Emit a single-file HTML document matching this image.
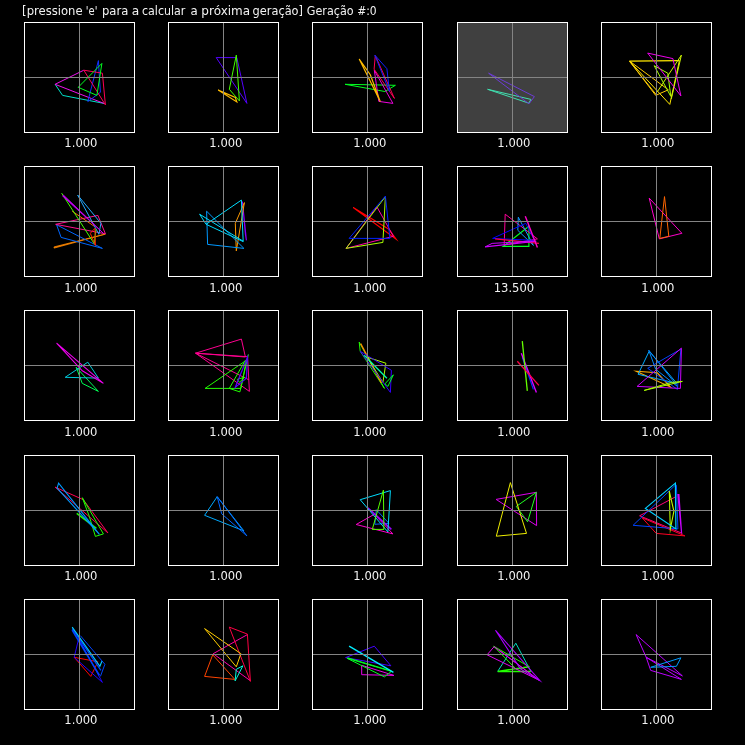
<!DOCTYPE html>
<html><head><meta charset="utf-8"><title>Geração</title>
<style>
html,body{margin:0;padding:0;background:#000;}
body{width:745px;height:745px;overflow:hidden;position:relative;font-family:"DejaVu Sans","Liberation Sans",sans-serif;}
svg{position:absolute;left:0;top:0;display:block;}
text{font-family:"DejaVu Sans","Liberation Sans",sans-serif;font-size:11.55px;fill:#f2f2f2;}
.b{fill:none;stroke:#fff;stroke-width:1;shape-rendering:crispEdges;}
.x{stroke:#848484;stroke-width:1;shape-rendering:crispEdges;}
.s{fill:none;stroke-linejoin:miter;stroke-miterlimit:10;stroke-linecap:butt;}
</style></head><body>
<svg width="745" height="745" viewBox="0 0 745 745">
<rect width="745" height="745" fill="#000"/>
<text y="14.5"><tspan x="22.14" textLength="60.48" lengthAdjust="spacingAndGlyphs">[pressione</tspan> <tspan x="85.85" textLength="11.61" lengthAdjust="spacingAndGlyphs">'e'</tspan> <tspan x="102.02" textLength="26.31" lengthAdjust="spacingAndGlyphs">para</tspan> <tspan x="131.84" textLength="7.49" lengthAdjust="spacingAndGlyphs">a</tspan> <tspan x="141.98" textLength="43.45" lengthAdjust="spacingAndGlyphs">calcular</tspan> <tspan x="190.57" textLength="7.22" lengthAdjust="spacingAndGlyphs">a</tspan> <tspan x="201.36" textLength="48.77" lengthAdjust="spacingAndGlyphs">próxima</tspan> <tspan x="252.58" textLength="50.44" lengthAdjust="spacingAndGlyphs">geração]</tspan> <tspan x="306.85" textLength="46.75" lengthAdjust="spacingAndGlyphs">Geração</tspan> <tspan x="357.20" textLength="19.51" lengthAdjust="spacingAndGlyphs">#:0</tspan></text>

<g>
<polyline class="s" points="55.1,84.3 62.6,95.4 103.9,103.4" stroke="#00e0c8" stroke-width="1.0"/>
<polyline class="s" points="83.8,70.2 55.1,84.3 103.9,103.4" stroke="#ee10ee" stroke-width="1.0"/>
<polygon class="s" points="98.4,60.6 87.8,101.6 100.4,92.3" stroke="#1030ff" stroke-width="1.0"/>
<polygon class="s" points="83.8,70.2 102.4,73.2 105.4,104.9" stroke="#ff0055" stroke-width="1.0"/>
<polygon class="s" points="78.2,87.3 101.9,63.4 96.9,95.4" stroke="#00ff20" stroke-width="1.0"/>
<line class="x" x1="79.5" y1="23" x2="79.5" y2="132"/>
<line class="x" x1="25" y1="77.5" x2="134" y2="77.5"/>
<rect class="b" x="24.5" y="22.5" width="110" height="110"/>
<text x="80.9" y="146.6" text-anchor="middle">1.000</text>
</g>
<g>
<polygon class="s" points="218.2,90.1 235.3,97.4 236.8,101.9" stroke="#ffbb00" stroke-width="1.2"/>
<polygon class="s" points="216.2,57.6 236.8,57.6 246.9,103.4" stroke="#5500ff" stroke-width="1.0"/>
<polygon class="s" points="236.3,55.1 229.3,89.3 239.4,100.9" stroke="#44ff00" stroke-width="1.0"/>
<line class="x" x1="223.5" y1="23" x2="223.5" y2="132"/>
<line class="x" x1="169" y1="77.5" x2="278" y2="77.5"/>
<rect class="b" x="168.5" y="22.5" width="110" height="110"/>
<text x="225.9" y="146.6" text-anchor="middle">1.000</text>
</g>
<g>
<polygon class="s" points="345.1,84.3 395.4,85.3 384.9,91.5" stroke="#00ff20" stroke-width="1.0"/>
<polygon class="s" points="374.3,70.2 378.8,101.4 392.9,103.4" stroke="#ee00dd" stroke-width="1.0"/>
<polygon class="s" points="375.3,55.6 374.1,69.2 394.4,98.4" stroke="#ff0055" stroke-width="1.0"/>
<polygon class="s" points="374.8,55.1 386.9,68.7 389.4,91.3" stroke="#1020ff" stroke-width="1.0"/>
<polygon class="s" points="359.2,59.1 370.3,74.7 380.3,101.6" stroke="#ffbb00" stroke-width="1.2"/>
<line class="x" x1="367.5" y1="23" x2="367.5" y2="132"/>
<line class="x" x1="313" y1="77.5" x2="422" y2="77.5"/>
<rect class="b" x="312.5" y="22.5" width="110" height="110"/>
<text x="369.9" y="146.6" text-anchor="middle">1.000</text>
</g>
<g>
<rect x="458" y="23" width="109" height="109" fill="#404040"/>
<polygon class="s" points="487.6,89.3 530.9,99.4 528.9,103.2" stroke="#40e0b0" stroke-width="1.0"/>
<polygon class="s" points="488.6,73.2 534.4,96.6 529.0,103.8" stroke="#6c3cd6" stroke-width="1.0"/>
<line class="x" x1="512.5" y1="23" x2="512.5" y2="132"/>
<line class="x" x1="458" y1="77.5" x2="567" y2="77.5"/>
<rect class="b" x="457.5" y="22.5" width="110" height="110"/>
<text x="513.9" y="146.6" text-anchor="middle">1.000</text>
</g>
<g>
<polygon class="s" points="629.6,61.1 655.7,95.4 668.3,89.8" stroke="#ffcc00" stroke-width="1.0"/>
<polyline class="s" points="629.6,61.5 656.4,94.9" stroke="#ffcc00" stroke-width="1.0"/>
<polyline class="s" points="629.6,61.1 679.4,60.6" stroke="#ffe800" stroke-width="1.45"/>
<polyline class="s" points="679.4,60.6 669.8,104.4 629.6,61.1" stroke="#ffe800" stroke-width="1.0"/>
<polyline class="s" points="657.3,91.8 681.4,55.1 671.3,98.9" stroke="#ccf600" stroke-width="1.0"/>
<polygon class="s" points="654.2,65.7 667.8,73.2 670.8,96.4" stroke="#aaff00" stroke-width="1.0"/>
<polygon class="s" points="647.7,53.1 672.9,58.6 680.9,95.9" stroke="#ee00ee" stroke-width="1.0"/>
<line class="x" x1="656.5" y1="23" x2="656.5" y2="132"/>
<line class="x" x1="602" y1="77.5" x2="711" y2="77.5"/>
<rect class="b" x="601.5" y="22.5" width="110" height="110"/>
<text x="657.9" y="146.6" text-anchor="middle">1.000</text>
</g>
<g>
<polygon class="s" points="54.1,246.9 105.4,234.1 54.1,248.1" stroke="#ff8800" stroke-width="0.8" style="fill:#ff8800"/>
<polygon class="s" points="56.6,224.8 61.1,237.4 102.4,248.4" stroke="#0066ff" stroke-width="1.0"/>
<polygon class="s" points="55.6,224.3 97.9,215.4 105.4,233.8" stroke="#ff1090" stroke-width="1.0"/>
<polyline class="s" points="72.2,211.2 94.3,226.3" stroke="#ff6600" stroke-width="1.0"/>
<polygon class="s" points="77.7,195.1 100.9,223.3 98.9,234.3" stroke="#22aaff" stroke-width="1.0"/>
<polyline class="s" points="61.6,193.1 94.3,243.9 95.9,229.3" stroke="#44ff00" stroke-width="1.0"/>
<polygon class="s" points="62.6,196.0 63.6,195.2 103.4,233.3" stroke="#cc00ff" stroke-width="0.8" style="fill:#cc00ff"/>
<polygon class="s" points="94.9,228.3 90.3,233.3 95.4,245.4" stroke="#ff2200" stroke-width="1.0"/>
<line class="x" x1="79.5" y1="167" x2="79.5" y2="276"/>
<line class="x" x1="25" y1="221.5" x2="134" y2="221.5"/>
<rect class="b" x="24.5" y="166.5" width="110" height="110"/>
<text x="80.9" y="291.6" text-anchor="middle">1.000</text>
</g>
<g>
<polygon class="s" points="242.4,201.6 246.4,240.4 245.4,234.3" stroke="#8800ff" stroke-width="1.1"/>
<polygon class="s" points="244.4,202.6 235.3,223.3 236.3,250.9" stroke="#ff9900" stroke-width="1.0"/>
<polygon class="s" points="206.6,211.2 207.6,244.4 243.9,248.4" stroke="#0099ff" stroke-width="1.0"/>
<polygon class="s" points="241.4,200.1 206.1,224.3 243.2,241.6" stroke="#00ddff" stroke-width="1.0"/>
<polyline class="s" points="206.1,224.3 199.6,214.2 243.2,241.2" stroke="#00ddff" stroke-width="1.0"/>
<line class="x" x1="223.5" y1="167" x2="223.5" y2="276"/>
<line class="x" x1="169" y1="221.5" x2="278" y2="221.5"/>
<rect class="b" x="168.5" y="166.5" width="110" height="110"/>
<text x="225.9" y="291.6" text-anchor="middle">1.000</text>
</g>
<g>
<polygon class="s" points="353.2,207.4 395.9,238.9 388.9,229.3" stroke="#ff0000" stroke-width="1.2"/>
<polygon class="s" points="376.8,206.7 393.4,236.3 346.1,248.4" stroke="#ff00aa" stroke-width="1.0"/>
<polygon class="s" points="385.4,196.6 346.1,248.4 382.9,242.4" stroke="#aaff00" stroke-width="1.0"/>
<polygon class="s" points="385.4,196.1 349.1,238.4 389.9,238.4" stroke="#0022ff" stroke-width="1.0"/>
<line class="x" x1="367.5" y1="167" x2="367.5" y2="276"/>
<line class="x" x1="313" y1="221.5" x2="422" y2="221.5"/>
<rect class="b" x="312.5" y="166.5" width="110" height="110"/>
<text x="369.9" y="291.6" text-anchor="middle">1.000</text>
</g>
<g>
<polygon class="s" points="528.9,226.3 503.2,246.4 528.9,246.4" stroke="#00ff22" stroke-width="1.15"/>
<polygon class="s" points="505.2,214.2 504.2,244.9 537.4,238.9" stroke="#ff0099" stroke-width="1.0"/>
<polygon class="s" points="518.3,217.2 517.8,230.3 533.4,245.4" stroke="#1199ff" stroke-width="1.0"/>
<polygon class="s" points="525.8,223.3 492.6,238.4 534.4,240.4" stroke="#0000ff" stroke-width="1.0"/>
<polyline class="s" points="495.1,238.9 538.9,243.4" stroke="#ff0044" stroke-width="1.2"/>
<polyline class="s" points="485.1,246.9 492.1,243.4 535.4,240.9" stroke="#cc00ff" stroke-width="1.0"/>
<polyline class="s" points="485.1,246.9 536.4,241.2" stroke="#cc00ff" stroke-width="1.1"/>
<polyline class="s" points="525.3,216.2 537.4,247.4" stroke="#ff00cc" stroke-width="1.4"/>
<line class="x" x1="512.5" y1="167" x2="512.5" y2="276"/>
<line class="x" x1="458" y1="221.5" x2="567" y2="221.5"/>
<rect class="b" x="457.5" y="166.5" width="110" height="110"/>
<text x="513.9" y="291.6" text-anchor="middle">13.500</text>
</g>
<g>
<polygon class="s" points="649.2,198.1 681.9,233.3 659.3,238.9" stroke="#ff00cc" stroke-width="1.0"/>
<polygon class="s" points="664.5,196.6 659.8,238.4 668.8,236.3" stroke="#ff6600" stroke-width="1.0"/>
<line class="x" x1="656.5" y1="167" x2="656.5" y2="276"/>
<line class="x" x1="602" y1="221.5" x2="711" y2="221.5"/>
<rect class="b" x="601.5" y="166.5" width="110" height="110"/>
<text x="657.9" y="291.6" text-anchor="middle">1.000</text>
</g>
<g>
<polygon class="s" points="76.2,367.3 82.3,383.4 98.4,391.4" stroke="#00ff55" stroke-width="1.0"/>
<polygon class="s" points="87.8,362.2 65.2,377.3 98.4,378.1" stroke="#00ccdd" stroke-width="1.0"/>
<polygon class="s" points="56.6,343.1 103.4,383.4 82.3,370.8" stroke="#ee00ee" stroke-width="1.1"/>
<line class="x" x1="79.5" y1="311" x2="79.5" y2="420"/>
<line class="x" x1="25" y1="365.5" x2="134" y2="365.5"/>
<rect class="b" x="24.5" y="310.5" width="110" height="110"/>
<text x="80.9" y="435.6" text-anchor="middle">1.000</text>
</g>
<g>
<polygon class="s" points="195.6,353.2 241.4,339.1 245.4,357.0" stroke="#ff0090" stroke-width="1.0"/>
<polygon class="s" points="195.6,353.2 247.6,356.7 249.4,391.4" stroke="#ff0090" stroke-width="1.0"/>
<polyline class="s" points="195.6,353.2 248.9,379.8" stroke="#ff0090" stroke-width="1.0"/>
<polygon class="s" points="246.4,360.2 205.1,388.4 240.9,388.4" stroke="#22ff00" stroke-width="1.0"/>
<polyline class="s" points="245.4,360.2 229.3,388.4 239.9,391.9 248.4,354.4" stroke="#22ff00" stroke-width="1.0"/>
<polygon class="s" points="237.3,379.3 244.4,377.3 239.4,382.4" stroke="#22ff00" stroke-width="1.0"/>
<polygon class="s" points="247.4,357.2 235.3,387.4 246.4,378.3" stroke="#5500ff" stroke-width="1.2"/>
<line class="x" x1="223.5" y1="311" x2="223.5" y2="420"/>
<line class="x" x1="169" y1="365.5" x2="278" y2="365.5"/>
<rect class="b" x="168.5" y="310.5" width="110" height="110"/>
<text x="225.9" y="435.6" text-anchor="middle">1.000</text>
</g>
<g>
<polygon class="s" points="359.2,342.1 360.2,351.2 384.4,388.4" stroke="#22ff00" stroke-width="1.0"/>
<polyline class="s" points="360.7,343.6 381.3,382.9" stroke="#ff8800" stroke-width="1.3"/>
<polygon class="s" points="367.2,357.2 385.9,363.2 382.9,382.4" stroke="#aaff00" stroke-width="1.0"/>
<polygon class="s" points="360.2,351.2 391.4,370.3 390.4,392.4" stroke="#3300ff" stroke-width="1.0"/>
<polyline class="s" points="364.2,355.2 386.9,378.3" stroke="#00ffaa" stroke-width="1.25"/>
<polygon class="s" points="393.4,374.8 384.9,383.9 387.9,386.4" stroke="#00ff22" stroke-width="1.0"/>
<line class="x" x1="367.5" y1="311" x2="367.5" y2="420"/>
<line class="x" x1="313" y1="365.5" x2="422" y2="365.5"/>
<rect class="b" x="312.5" y="310.5" width="110" height="110"/>
<text x="369.9" y="435.6" text-anchor="middle">1.000</text>
</g>
<g>
<polyline class="s" points="522.3,357.2 533.4,389.4" stroke="#0033ff" stroke-width="1.2"/>
<polyline class="s" points="521.3,353.2 536.4,392.4" stroke="#dd00ff" stroke-width="1.35"/>
<polyline class="s" points="522.3,341.1 527.3,390.9" stroke="#66ff00" stroke-width="1.3"/>
<polyline class="s" points="517.3,361.2 538.9,385.4" stroke="#ff0044" stroke-width="1.3"/>
<line class="x" x1="512.5" y1="311" x2="512.5" y2="420"/>
<line class="x" x1="458" y1="365.5" x2="567" y2="365.5"/>
<rect class="b" x="457.5" y="310.5" width="110" height="110"/>
<text x="513.9" y="435.6" text-anchor="middle">1.000</text>
</g>
<g>
<polygon class="s" points="636.1,371.3 670.3,386.9 657.3,372.8" stroke="#ffaa00" stroke-width="1.1"/>
<polygon class="s" points="649.2,351.2 638.1,374.3 676.9,383.4" stroke="#00aaff" stroke-width="1.0"/>
<polygon class="s" points="648.7,350.1 655.7,369.3 677.9,386.9" stroke="#0088ff" stroke-width="1.0"/>
<polygon class="s" points="680.9,349.1 647.7,368.3 677.4,389.4" stroke="#0044ff" stroke-width="1.0"/>
<polygon class="s" points="681.4,348.1 637.1,386.4 680.4,388.4" stroke="#cc00ff" stroke-width="1.0"/>
<polygon class="s" points="644.2,390.4 682.4,381.4 671.3,382.4" stroke="#aaff00" stroke-width="1.0"/>
<line class="x" x1="656.5" y1="311" x2="656.5" y2="420"/>
<line class="x" x1="602" y1="365.5" x2="711" y2="365.5"/>
<rect class="b" x="601.5" y="310.5" width="110" height="110"/>
<text x="657.9" y="435.6" text-anchor="middle">1.000</text>
</g>
<g>
<polygon class="s" points="55.1,487.1 83.3,499.7 107.9,532.9" stroke="#ff0055" stroke-width="1.0"/>
<polygon class="s" points="82.3,497.7 103.4,533.9 95.4,536.4 89.3,516.3" stroke="#22ff00" stroke-width="1.0"/>
<polyline class="s" points="76.7,513.3 96.4,528.4" stroke="#22ff00" stroke-width="1.5"/>
<polygon class="s" points="58.6,483.1 57.1,488.1 99.4,534.4" stroke="#0099ff" stroke-width="1.1"/>
<line class="x" x1="79.5" y1="456" x2="79.5" y2="565"/>
<line class="x" x1="25" y1="510.5" x2="134" y2="510.5"/>
<rect class="b" x="24.5" y="455.5" width="110" height="110"/>
<text x="80.9" y="579.6" text-anchor="middle">1.000</text>
</g>
<g>
<polygon class="s" points="217.2,496.7 204.6,515.3 243.9,530.9" stroke="#00aaff" stroke-width="1.0"/>
<polygon class="s" points="217.2,496.7 221.7,513.8 246.9,535.9" stroke="#0066ff" stroke-width="1.0"/>
<line class="x" x1="223.5" y1="456" x2="223.5" y2="565"/>
<line class="x" x1="169" y1="510.5" x2="278" y2="510.5"/>
<rect class="b" x="168.5" y="455.5" width="110" height="110"/>
<text x="225.9" y="579.6" text-anchor="middle">1.000</text>
</g>
<g>
<polygon class="s" points="374.3,514.3 356.2,524.5 392.9,533.9" stroke="#ff00cc" stroke-width="1.0"/>
<polygon class="s" points="376.3,509.7 374.8,524.3 388.9,523.3" stroke="#0066ff" stroke-width="1.0"/>
<polyline class="s" points="367.8,507.7 391.4,529.4" stroke="#9900ff" stroke-width="1.45"/>
<polygon class="s" points="360.2,499.7 390.4,490.6 387.9,531.9" stroke="#00ddff" stroke-width="1.0"/>
<polygon class="s" points="383.4,490.1 372.3,529.4 383.9,529.4" stroke="#55ff00" stroke-width="1.0"/>
<line class="x" x1="367.5" y1="456" x2="367.5" y2="565"/>
<line class="x" x1="313" y1="510.5" x2="422" y2="510.5"/>
<rect class="b" x="312.5" y="455.5" width="110" height="110"/>
<text x="369.9" y="579.6" text-anchor="middle">1.000</text>
</g>
<g>
<polygon class="s" points="496.1,499.4 536.4,492.3 536.6,525.6" stroke="#dd00ee" stroke-width="1.0"/>
<polygon class="s" points="536.4,492.3 516.3,506.4 527.6,521.8" stroke="#22ff22" stroke-width="1.0"/>
<polygon class="s" points="510.4,482.6 496.3,536.2 526.5,533.4" stroke="#eeee00" stroke-width="1.0"/>
<line class="x" x1="512.5" y1="456" x2="512.5" y2="565"/>
<line class="x" x1="458" y1="510.5" x2="567" y2="510.5"/>
<rect class="b" x="457.5" y="455.5" width="110" height="110"/>
<text x="513.9" y="579.6" text-anchor="middle">1.000</text>
</g>
<g>
<polygon class="s" points="642.2,517.8 656.2,533.4 684.9,535.9" stroke="#ff0022" stroke-width="1.0"/>
<polyline class="s" points="674.9,497.2 639.6,515.8 682.4,533.4" stroke="#ff0077" stroke-width="1.0"/>
<polygon class="s" points="676.4,485.1 674.9,485.6 633.1,525.3 677.9,528.9" stroke="#0044ff" stroke-width="1.0"/>
<polygon class="s" points="677.9,494.6 678.9,494.6 681.6,533.4" stroke="#cc00ff" stroke-width="1.2"/>
<polygon class="s" points="669.3,491.1 673.9,511.3 670.3,529.4" stroke="#bbff00" stroke-width="1.1"/>
<polygon class="s" points="675.4,483.1 645.4,508.4 675.9,528.9" stroke="#00ccff" stroke-width="1.2"/>
<line class="x" x1="656.5" y1="456" x2="656.5" y2="565"/>
<line class="x" x1="602" y1="510.5" x2="711" y2="510.5"/>
<rect class="b" x="601.5" y="455.5" width="110" height="110"/>
<text x="657.9" y="579.6" text-anchor="middle">1.000</text>
</g>
<g>
<polygon class="s" points="74.2,657.3 97.9,661.8 90.8,676.4" stroke="#ff0000" stroke-width="1.0"/>
<polygon class="s" points="78.7,638.6 74.2,657.3 102.4,682.4" stroke="#2200ff" stroke-width="1.0"/>
<polyline class="s" points="72.2,630.1 99.4,675.4" stroke="#0044ff" stroke-width="1.6"/>
<polyline class="s" points="80.3,635.6 104.9,664.3 100.4,676.4" stroke="#0044ff" stroke-width="1.0"/>
<polyline class="s" points="72.2,628.6 100.9,670.4" stroke="#0044ff" stroke-width="1.2"/>
<polyline class="s" points="72.2,627.1 99.9,666.3 101.9,661.3" stroke="#00ccff" stroke-width="1.1"/>
<line class="x" x1="79.5" y1="600" x2="79.5" y2="709"/>
<line class="x" x1="25" y1="654.5" x2="134" y2="654.5"/>
<rect class="b" x="24.5" y="599.5" width="110" height="110"/>
<text x="80.9" y="723.6" text-anchor="middle">1.000</text>
</g>
<g>
<polygon class="s" points="212.7,654.8 204.6,676.4 234.8,679.4" stroke="#ff4400" stroke-width="1.0"/>
<polyline class="s" points="247.4,634.6 213.2,653.7 249.9,680.4" stroke="#ff00aa" stroke-width="1.0"/>
<polygon class="s" points="229.3,627.1 247.4,634.1 250.4,681.4" stroke="#ff0044" stroke-width="1.0"/>
<polygon class="s" points="204.6,628.6 240.9,653.7 236.3,666.8" stroke="#ffcc00" stroke-width="1.0"/>
<polygon class="s" points="242.9,665.8 236.3,669.3 235.1,680.9" stroke="#00ffdd" stroke-width="1.0"/>
<line class="x" x1="223.5" y1="600" x2="223.5" y2="709"/>
<line class="x" x1="169" y1="654.5" x2="278" y2="654.5"/>
<rect class="b" x="168.5" y="599.5" width="110" height="110"/>
<text x="225.9" y="723.6" text-anchor="middle">1.000</text>
</g>
<g>
<polygon class="s" points="361.7,665.3 361.7,674.7 393.9,675.4" stroke="#ee00ee" stroke-width="1.0"/>
<polygon class="s" points="374.3,646.2 345.6,657.6 390.9,665.8" stroke="#4400ff" stroke-width="1.0"/>
<polygon class="s" points="347.1,658.3 391.4,671.4 384.4,676.9" stroke="#00ff22" stroke-width="1.0"/>
<polyline class="s" points="347.6,657.8 391.4,671.0" stroke="#00ff22" stroke-width="1.0"/>
<polyline class="s" points="349.1,646.2 393.4,672.4" stroke="#00eeff" stroke-width="1.35"/>
<line class="x" x1="367.5" y1="600" x2="367.5" y2="709"/>
<line class="x" x1="313" y1="654.5" x2="422" y2="654.5"/>
<rect class="b" x="312.5" y="599.5" width="110" height="110"/>
<text x="369.9" y="723.6" text-anchor="middle">1.000</text>
</g>
<g>
<polyline class="s" points="497.7,671.4 515.8,643.2 530.9,671.4" stroke="#00ddbb" stroke-width="1.0"/>
<polygon class="s" points="493.6,646.2 529.4,666.8 516.3,669.3" stroke="#22ff00" stroke-width="1.0"/>
<polyline class="s" points="528.9,666.8 497.7,671.4 530.9,671.4" stroke="#22ff00" stroke-width="1.45"/>
<polygon class="s" points="494.1,646.7 487.1,654.8 539.4,680.4" stroke="#dd00ee" stroke-width="1.0"/>
<polyline class="s" points="499.2,650.2 536.4,678.4" stroke="#dd00ee" stroke-width="1.0"/>
<polygon class="s" points="495.5,630.3 539.7,680.5 520.4,668.9" stroke="#aa00ff" stroke-width="1.1"/>
<line class="x" x1="512.5" y1="600" x2="512.5" y2="709"/>
<line class="x" x1="458" y1="654.5" x2="567" y2="654.5"/>
<rect class="b" x="457.5" y="599.5" width="110" height="110"/>
<text x="513.9" y="723.6" text-anchor="middle">1.000</text>
</g>
<g>
<polygon class="s" points="636.1,634.6 646.2,657.3 682.4,675.9" stroke="#bb00ff" stroke-width="1.0"/>
<polygon class="s" points="646.2,657.3 650.7,670.4 681.4,679.4" stroke="#bb00ff" stroke-width="1.0"/>
<polygon class="s" points="680.9,657.8 650.7,667.3 676.4,666.3" stroke="#0099ff" stroke-width="1.0"/>
<line class="x" x1="656.5" y1="600" x2="656.5" y2="709"/>
<line class="x" x1="602" y1="654.5" x2="711" y2="654.5"/>
<rect class="b" x="601.5" y="599.5" width="110" height="110"/>
<text x="657.9" y="723.6" text-anchor="middle">1.000</text>
</g>
</svg></body></html>
